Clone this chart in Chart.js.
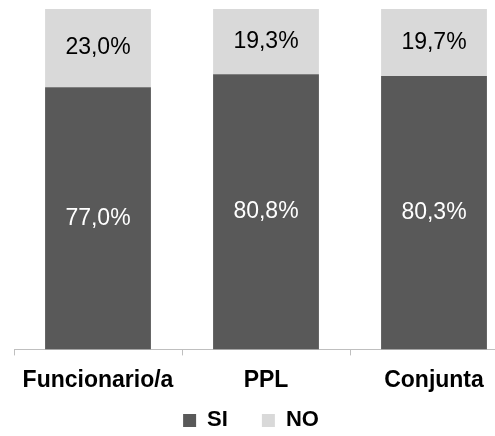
<!DOCTYPE html>
<html>
<head>
<meta charset="utf-8">
<script src="https://cdn.jsdelivr.net/npm/chart.js@4"></script>
<style>
  html, body { margin: 0; padding: 0; background: #fff; overflow: hidden; }
  #wrap { width: 525px; height: 436px; }
</style>
</head>
<body>
<div id="wrap"><canvas id="grafico"></canvas></div>
<script>
// datos
const categorias = ['Funcionario/a', 'PPL', 'Conjunta'];
const valoresSI = [77.0, 80.8, 80.3];
const valoresNO = [23.0, 19.3, 19.7];

const fuente = '"Liberation Sans", Arial, sans-serif';
const espacioLeyenda = 34;

// etiquetas dentro de cada segmento
const etiquetasBarras = {
  id: 'etiquetasBarras',
  afterDatasetsDraw(chart) {
    const ctx = chart.ctx;
    ctx.save();
    ctx.font = '23px ' + fuente;
    ctx.textAlign = 'center';
    ctx.textBaseline = 'middle';
    chart.data.datasets.forEach((ds, i) => {
      const meta = chart.getDatasetMeta(i);
      meta.data.forEach((bar, j) => {
        const p = bar.getCenterPoint();
        ctx.fillStyle = ds.labelColor;
        ctx.fillText(ds.data[j].toFixed(1).replace('.', ',') + '%', p.x, p.y);
      });
    });
    ctx.restore();
  }
};

// coloca la leyenda como en el original (el grafico original esta recortado a la derecha)
const moverLeyenda = {
  id: 'moverLeyenda',
  afterLayout(chart) {
    chart.legend.left -= 30;
    chart.legend.top = chart.chartArea.bottom + 71 - espacioLeyenda - 11;
  }
};

new Chart(document.getElementById('grafico'), {
  type: 'bar',
  data: {
    labels: categorias,
    datasets: [
      { label: 'SI', data: valoresSI, backgroundColor: '#595959', labelColor: '#ffffff' },
      { label: 'NO', data: valoresNO, backgroundColor: '#d9d9d9', labelColor: '#000000' }
    ]
  },
  options: {
    responsive: true,
    maintainAspectRatio: false,
    animation: false,
    datasets: { bar: { categoryPercentage: 1, barPercentage: 0.63 } },
    layout: { padding: { left: 14, right: 7, top: 9, bottom: 0 } },
    scales: {
      x: {
        stacked: true,
        grid: { drawOnChartArea: false, tickLength: 6, color: '#bfbfbf', offset: true },
        border: { color: '#bfbfbf' },
        ticks: { color: '#000', font: { family: fuente, size: 23, weight: 'bold' }, padding: 11 }
      },
      y: { stacked: true, display: false, min: 0, max: 100 }
    },
    plugins: {
      legend: {
        position: 'bottom',
        maxHeight: 31,
        labels: {
          color: '#000',
          boxWidth: 13,
          boxHeight: 13,
          padding: espacioLeyenda,
          font: { family: fuente, size: 22, weight: 'bold' }
        }
      },
      tooltip: { enabled: false }
    }
  },
  plugins: [etiquetasBarras, moverLeyenda]
});
</script>
</body>
</html>
